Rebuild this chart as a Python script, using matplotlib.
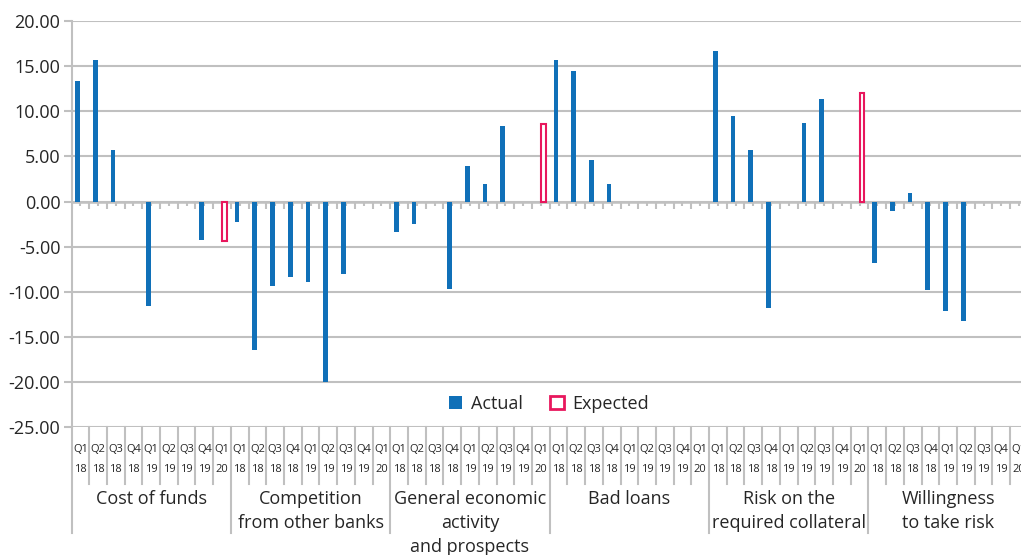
import numpy as np
import matplotlib
matplotlib.use("Agg")
import matplotlib.pyplot as plt
from matplotlib.patches import Patch
from matplotlib import font_manager

# ---- data -------------------------------------------------------------
groups = [
    "Cost of funds",
    "Competition\nfrom other banks",
    "General economic\nactivity\nand prospects",
    "Bad loans",
    "Risk on the\nrequired collateral",
    "Willingness\nto take risk",
]
quarters = ["Q1\n18", "Q2\n18", "Q3\n18", "Q4\n18", "Q1\n19", "Q2\n19", "Q3\n19", "Q4\n19", "Q1\n20"]

nan = np.nan
actual_cost_of_funds = [13.3, 15.7, 5.7, 0.0, -11.6, 0.0, 0.0, -4.3, nan]
actual_competition = [-2.3, -16.4, -9.3, -8.4, -8.9, -20.0, -8.0, 0.0, nan]
actual_economic = [-3.4, -2.5, 0.0, -9.7, 3.9, 2.0, 8.4, 0.0, nan]
actual_bad_loans = [15.7, 14.5, 4.6, 2.0, 0.0, 0.0, 0.0, 0.0, nan]
actual_collateral = [16.7, 9.5, 5.7, -11.8, 0.0, 8.7, 11.4, 0.0, nan]
actual_risk_taking = [-6.8, -1.0, 1.0, -9.8, -12.1, -13.2, 0.0, 0.0, nan]

expected_cost_of_funds = [nan] * 8 + [-4.4]
expected_competition = [nan] * 9
expected_economic = [nan] * 8 + [8.6]
expected_bad_loans = [nan] * 9
expected_collateral = [nan] * 8 + [12.0]
expected_risk_taking = [nan] * 9

yticks = [20, 15, 10, 5, 0, -5, -10, -15, -20, -25]

actual = np.array(actual_cost_of_funds + actual_competition + actual_economic
                  + actual_bad_loans + actual_collateral + actual_risk_taking, dtype=float)
expected = np.array(expected_cost_of_funds + expected_competition + expected_economic
                    + expected_bad_loans + expected_collateral + expected_risk_taking, dtype=float)

# ---- style ------------------------------------------------------------
BLUE = "#1070b8"
CRIMSON = "#e8175d"
GRID = "#c0c0c0"
TEXT = "#262626"
FONT = "Open Sans"
available = {f.name for f in font_manager.fontManager.ttflist}
NARROW = "Liberation Sans Narrow" if "Liberation Sans Narrow" in available else FONT
plt.rcParams["font.family"] = [FONT, "DejaVu Sans"]

W, H = 1021, 555
fig = plt.figure(figsize=(W / 100, H / 100), dpi=100)

# axes placed in pixel terms (right end runs past the figure edge)
ax_left, ax_top, ax_bottom = 71.5, 21.0, 427.3
n_cat = len(groups) * len(quarters)
cat_w = 17.71
ax = fig.add_axes([ax_left / W, 1 - ax_bottom / H,
                   n_cat * cat_w / W, (ax_bottom - ax_top) / H])
ax.set_xlim(-0.5, n_cat - 0.5)
ax.set_ylim(-25, 20)

x = np.arange(n_cat)
bw = 0.26
ax.bar(x - 0.15, actual, width=bw, color=BLUE, linewidth=0, zorder=3)
ax.bar(x + 0.14, expected, width=bw, facecolor="white", edgecolor=CRIMSON,
       linewidth=1.5, zorder=3)

# gridlines and axes
ax.set_yticks(yticks)
ax.set_yticklabels([f"{v:.2f}".replace("-", "-") for v in yticks],
                   fontsize=13, color=TEXT)
ax.tick_params(axis="y", length=6, width=1.5, color=GRID, pad=2)
ax.grid(axis="y", color=GRID, linewidth=1.5, zorder=0)
ax.set_axisbelow(True)
ax.set_xticks([])
for side in ["top", "right", "bottom"]:
    ax.spines[side].set_visible(False)
ax.spines["left"].set_color(GRID)
ax.spines["left"].set_linewidth(1.5)
ax.axhline(0, color=GRID, linewidth=1.8, zorder=1)

# small ticks hanging below the zero line
px = (ax_bottom - ax_top) / 45.0
ax.vlines(np.arange(n_cat + 1) - 0.5, 0, -7 / px, color=GRID, linewidth=1.5, zorder=1)
ax.vlines(x, 0, -4 / px, color=GRID, linewidth=1.5, zorder=1)

# ---- multi-level category axis -----------------------------------------
def fy(py):
    return (ax_bottom - py) / (ax_bottom - ax_top)

tr = ax.get_xaxis_transform()
for k in range(n_cat + 1):
    is_group = k % len(quarters) == 0
    ax.plot([k - 0.5, k - 0.5], [fy(ax_bottom), fy(533 if is_group else 484)],
            transform=tr, color=GRID, linewidth=1.5, clip_on=False)

for k in range(n_cat):
    q, yr = quarters[k % len(quarters)].split("\n")
    ax.text(k, fy(450), q, transform=tr, ha="center", va="center",
            fontsize=8, family=[NARROW, "DejaVu Sans"], color=TEXT, clip_on=False)
    ax.text(k, fy(469), yr, transform=tr, ha="center", va="center",
            fontsize=8, family=[NARROW, "DejaVu Sans"], color=TEXT, clip_on=False)

for g, name in enumerate(groups):
    cx = g * len(quarters) + (len(quarters) - 1) / 2
    for i, line in enumerate(name.split("\n")):
        ax.text(cx, fy(499 + 24 * i), line, transform=tr, ha="center", va="center",
                fontsize=13, color=TEXT, clip_on=False)

# ---- legend -----------------------------------------------------------
handles = [Patch(facecolor=BLUE, edgecolor=BLUE, linewidth=0, label="Actual"),
           Patch(facecolor="white", edgecolor=CRIMSON, linewidth=2, label="Expected")]
leg = fig.legend(handles=handles, loc="center", bbox_to_anchor=(549 / W, 1 - 404 / H),
                 ncol=2, frameon=False, fontsize=13, handlelength=0.75, handleheight=0.75,
                 handletextpad=0.5, columnspacing=1.5, labelcolor=TEXT)

fig.savefig("out.png", dpi=100)
